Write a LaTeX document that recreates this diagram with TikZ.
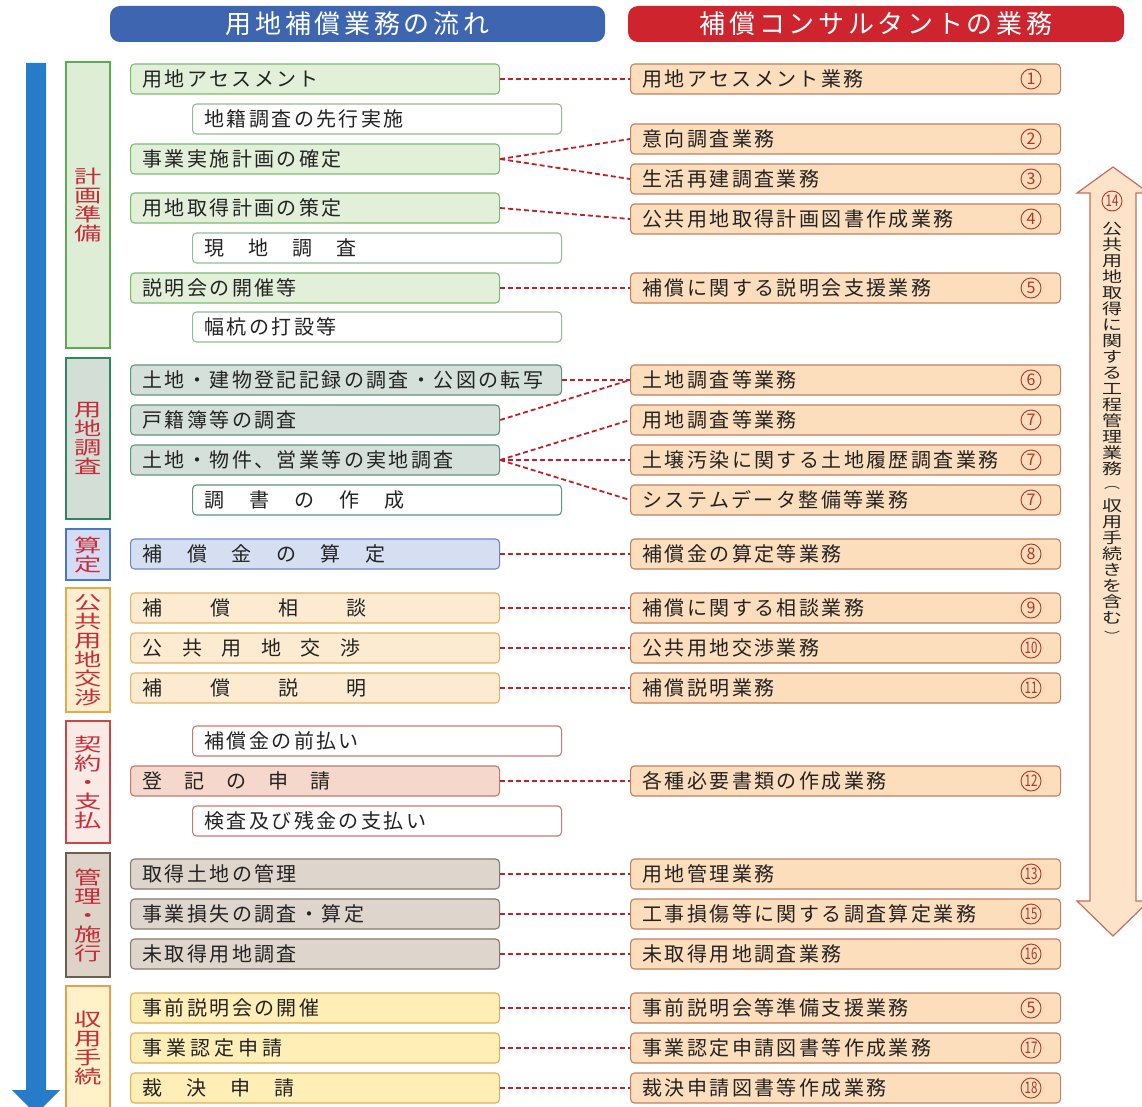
\documentclass[tikz,border=0pt]{standalone}
\usepackage{fontspec}
\usepackage{graphicx}
\setmainfont{Noto Sans CJK JP}[LetterSpace=12]
\newfontfamily\jpplain{Noto Sans CJK JP}
\newfontfamily\jphead{Noto Sans CJK JP}[LetterSpace=14]
\definecolor{txt}{RGB}{35,35,35}
\definecolor{hblue}{RGB}{62,102,176}
\definecolor{hred}{RGB}{206,36,46}
\definecolor{arrblue}{RGB}{38,124,200}
\definecolor{dashred}{RGB}{192,32,44}
\definecolor{catred}{RGB}{200,45,55}
\definecolor{rfill}{RGB}{252,221,188}
\definecolor{rdraw}{RGB}{192,128,96}
\definecolor{numred}{RGB}{175,55,40}
\definecolor{afill}{RGB}{253,228,200}
\definecolor{adraw}{RGB}{195,110,95}
% groups
\definecolor{gAcf}{RGB}{222,238,214}\definecolor{gAcd}{RGB}{95,170,85}
\definecolor{gAbf}{RGB}{226,240,218}\definecolor{gAbd}{RGB}{125,185,115}\definecolor{gAsd}{RGB}{150,185,150}
\definecolor{gBcf}{RGB}{210,222,214}\definecolor{gBcd}{RGB}{45,135,95}
\definecolor{gBbf}{RGB}{213,224,218}\definecolor{gBbd}{RGB}{95,150,125}
\definecolor{gCcf}{RGB}{212,220,244}\definecolor{gCcd}{RGB}{70,120,195}
\definecolor{gCbf}{RGB}{214,222,242}\definecolor{gCbd}{RGB}{105,135,200}
\definecolor{gDcf}{RGB}{253,238,210}\definecolor{gDcd}{RGB}{228,172,70}
\definecolor{gDbf}{RGB}{252,235,208}\definecolor{gDbd}{RGB}{228,178,100}
\definecolor{gEcf}{RGB}{250,234,230}\definecolor{gEcd}{RGB}{205,70,70}
\definecolor{gEbf}{RGB}{245,215,203}\definecolor{gEbd}{RGB}{195,120,110}\definecolor{gEsd}{RGB}{200,120,120}
\definecolor{gFcf}{RGB}{221,211,201}\definecolor{gFcd}{RGB}{110,95,85}
\definecolor{gFbf}{RGB}{222,213,205}\definecolor{gFbd}{RGB}{135,120,110}
\definecolor{gGcf}{RGB}{255,242,200}\definecolor{gGcd}{RGB}{228,160,80}
\definecolor{gGbf}{RGB}{255,238,182}\definecolor{gGbd}{RGB}{222,175,85}
\newcommand\gp[1]{\hspace{#1pt}}
\newcommand\vw[1]{\scalebox{1.3}[0.88]{#1}}
\newcommand\dd[1]{\scalebox{0.72}[1]{#1}}
\tikzset{
  box/.style={rounded corners=4pt, line width=1.1pt, minimum height=30pt,
    inner xsep=12pt, inner ysep=0pt, anchor=west,
    font=\fontsize{20}{20}\selectfont, text=txt, text width=345pt, align=left},
  subbox/.style={box, fill=white},
  rbox/.style={box, fill=rfill, draw=rdraw, text width=406pt},
  conn/.style={draw=dashred, line width=1.8pt, dash pattern=on 5pt off 3pt},
  catbox/.style={rectangle, line width=1.5pt, minimum width=44pt, inner sep=0pt,
    align=center, text=catred,
    font=\jpplain\fontsize{21}{19}\selectfont},
  num/.style={circle, draw=numred, line width=0.9pt, minimum size=20pt, inner sep=0pt,
    text=numred, font=\jpplain\fontsize{16}{16}\selectfont},
  header/.style={rounded corners=10pt, minimum height=36pt, text=white,
    font=\jphead\fontsize{26}{26}\selectfont},
  vchar/.style={inner sep=0pt, text=txt, font=\jpplain\fontsize{20}{20}\selectfont},
  vparen/.style={inner sep=0pt, text=txt, font=\jpplain\fontsize{16}{16}\selectfont}
}
\begin{document}
\begin{tikzpicture}[x=1pt,y=-1pt]
\useasboundingbox (0,0) rectangle (1142,1107);
\fill[white] (0,0) rectangle (1142,1107);

% headers
\node[header, fill=hblue, minimum width=495pt] (h1) at (357.5,24) {用地補償業務の流れ};
\node[header, fill=hred, minimum width=496pt] (h2) at (876,24) {補償コンサルタントの業務};

% left blue arrow
\fill[arrblue] (26,63) -- (46,63) -- (46,1090) -- (60,1090) -- (36,1114) -- (12,1090) -- (26,1090) -- cycle;

% right double arrow
\filldraw[fill=afill, draw=adraw, line width=1.2pt]
  (1113,167) -- (1149,193) -- (1136,193) -- (1136,901) -- (1149,901) -- (1113,936)
  -- (1077,901) -- (1090,901) -- (1090,193) -- (1077,193) -- cycle;
\node[num] (n14) at (1112,201) {\dd{14}};
\foreach \c [count=\i] in {公,共,用,地,取,得,に,関,す,る,工,程,管,理,業,務}
  \node[vchar, name=va\i] at (1112,213+16*\i) {\scalebox{1}[0.76]{\c}};
\node[vparen] (vp1) at (1112,213+16*17+3) {\scalebox{1}[0.7]{︵}};
\foreach \c [count=\i] in {収,用,手,続,き,を,含,む}
  \node[vchar, name=vb\i] at (1112,213+16*17+5+16*\i) {\scalebox{1}[0.76]{\c}};
\node[vparen] (vp2) at (1112,213+16*26+7) {\scalebox{1}[0.7]{︶}};

% category boxes
\node[catbox, fill=gAcf, draw=gAcd, minimum height=286pt] (c1) at (88,205) {\vw{計}\\\vw{画}\\\vw{準}\\\vw{備}};
\node[catbox, fill=gBcf, draw=gBcd, minimum height=161pt] (c2) at (88,438.5) {\vw{用}\\\vw{地}\\\vw{調}\\\vw{査}};
\node[catbox, fill=gCcf, draw=gCcd, minimum height=51pt] (c3) at (88,554.5) {\vw{算}\\\vw{定}};
\node[catbox, fill=gDcf, draw=gDcd, minimum height=124pt] (c4) at (88,650) {\vw{公}\\\vw{共}\\\vw{用}\\\vw{地}\\\vw{交}\\\vw{渉}};
\node[catbox, fill=gEcf, draw=gEcd, minimum height=122pt] (c5) at (88,782) {\vw{契}\\\vw{約}\\\vw{・}\\\vw{支}\\\vw{払}};
\node[catbox, fill=gFcf, draw=gFcd, minimum height=124pt] (c6) at (88,915) {\vw{管}\\\vw{理}\\\vw{・}\\\vw{施}\\\vw{行}};
\node[catbox, fill=gGcf, draw=gGcd, minimum height=124pt] (c7) at (88,1048) {\vw{収}\\\vw{用}\\\vw{手}\\\vw{続}};

% flow boxes
\node[box, fill=gAbf, draw=gAbd] (m1) at (130,79) {用地アセスメント};
\node[subbox, draw=gAsd] (s1) at (192,119) {地籍調査の先行実施};
\node[box, fill=gAbf, draw=gAbd] (m2) at (130,159) {事業実施計画の確定};
\node[box, fill=gAbf, draw=gAbd] (m3) at (130,208) {用地取得計画の策定};
\node[subbox, draw=gAsd] (s2) at (192,248) {現\gp{24}地\gp{24}調\gp{24}査};
\node[box, fill=gAbf, draw=gAbd] (m4) at (130,288) {説明会の開催等};
\node[subbox, draw=gAsd] (s3) at (192,327) {幅杭の打設等};

\node[box, fill=gBbf, draw=gBbd, text width=407pt] (m5) at (130,380) {土地・建物登記記録の調査・公図の転写};
\node[box, fill=gBbf, draw=gBbd] (m6) at (130,420) {戸籍簿等の調査};
\node[box, fill=gBbf, draw=gBbd] (m7) at (130,460) {土地・物件、営業等の実地調査};
\node[subbox, draw=gBbd] (s4) at (192,500) {調\gp{25}書\gp{25}の\gp{25}作\gp{25}成};

\node[box, fill=gCbf, draw=gCbd] (m8) at (130,554) {補\gp{24.5}償\gp{24.5}金\gp{24.5}の\gp{24.5}算\gp{24.5}定};

\node[box, fill=gDbf, draw=gDbd] (m9) at (130,608) {補\gp{48}償\gp{48}相\gp{48}談};
\node[box, fill=gDbf, draw=gDbd] (m10) at (130,648) {公\gp{19.5}共\gp{19.5}用\gp{19.5}地\gp{19.5}交\gp{19.5}渉};
\node[box, fill=gDbf, draw=gDbd] (m11) at (130,688) {補\gp{48}償\gp{48}説\gp{48}明};

\node[subbox, draw=gEsd] (s5) at (192,741) {補償金の前払い};
\node[box, fill=gEbf, draw=gEbd] (m12) at (130,781) {登\gp{22}記\gp{22}の\gp{22}申\gp{22}請};
\node[subbox, draw=gEsd] (s6) at (192,821) {検査及び残金の支払い};

\node[box, fill=gFbf, draw=gFbd] (m13) at (130,874) {取得土地の管理};
\node[box, fill=gFbf, draw=gFbd] (m14) at (130,914) {事業損失の調査・算定};
\node[box, fill=gFbf, draw=gFbd] (m15) at (130,954) {未取得用地調査};

\node[box, fill=gGbf, draw=gGbd] (m16) at (130,1008) {事前説明会の開催};
\node[box, fill=gGbf, draw=gGbd] (m17) at (130,1048) {事\gp{4}業\gp{4}認\gp{4}定\gp{4}申\gp{4}請};
\node[box, fill=gGbf, draw=gGbd] (m18) at (130,1088) {裁\gp{24}決\gp{24}申\gp{24}請};

% consultant boxes
\node[rbox] (r1) at (630,79) {用地アセスメント業務};
\node[rbox] (r2) at (630,139) {意向調査業務};
\node[rbox] (r3) at (630,179) {生活再建調査業務};
\node[rbox] (r4) at (630,219) {公共用地取得計画図書作成業務};
\node[rbox] (r5) at (630,288) {補償に関する説明会支援業務};
\node[rbox] (r6) at (630,380) {土地調査等業務};
\node[rbox] (r7) at (630,420) {用地調査等業務};
\node[rbox] (r8) at (630,460) {土壌汚染に関する土地履歴調査業務};
\node[rbox] (r9) at (630,500) {システムデータ整備等業務};
\node[rbox] (r10) at (630,554) {補償金の算定等業務};
\node[rbox] (r11) at (630,608) {補償に関する相談業務};
\node[rbox] (r12) at (630,648) {公共用地交渉業務};
\node[rbox] (r13) at (630,688) {補償説明業務};
\node[rbox] (r14) at (630,781) {各種必要書類の作成業務};
\node[rbox] (r15) at (630,874) {用地管理業務};
\node[rbox] (r16) at (630,914) {工事損傷等に関する調査算定業務};
\node[rbox] (r17) at (630,954) {未取得用地調査業務};
\node[rbox] (r18) at (630,1008) {事前説明会等準備支援業務};
\node[rbox] (r19) at (630,1048) {事業認定申請図書等作成業務};
\node[rbox] (r20) at (630,1088) {裁決申請図書等作成業務};

% numbers
\node[num] (n1) at (1031,79) {1};
\node[num] (n2) at (1031,139) {2};
\node[num] (n3) at (1031,179) {3};
\node[num] (n4) at (1031,219) {4};
\node[num] (n5) at (1031,288) {5};
\node[num] (n6) at (1031,380) {6};
\node[num] (n7a) at (1031,420) {7};
\node[num] (n7b) at (1031,460) {7};
\node[num] (n7c) at (1031,500) {7};
\node[num] (n8) at (1031,554) {8};
\node[num] (n9) at (1031,608) {9};
\node[num] (n10) at (1031,648) {\dd{10}};
\node[num] (n11) at (1031,688) {\dd{11}};
\node[num] (n12) at (1031,781) {\dd{12}};
\node[num] (n13) at (1031,874) {\dd{13}};
\node[num] (n15) at (1031,914) {\dd{15}};
\node[num] (n16) at (1031,954) {\dd{16}};
\node[num] (n5b) at (1031,1008) {5};
\node[num] (n17) at (1031,1048) {\dd{17}};
\node[num] (n18) at (1031,1088) {\dd{18}};

% connectors
\draw[conn] (m1.east) -- (r1.west);
\draw[conn] (m2.east) -- (r2.west);
\draw[conn] (m2.east) -- (r3.west);
\draw[conn] (m3.east) -- (r4.west);
\draw[conn] (m4.east) -- (r5.west);
\draw[conn] (m5.east) -- (r6.west);
\draw[conn] (m6.east) -- (r6.west);
\draw[conn] (m7.east) -- (r7.west);
\draw[conn] (m7.east) -- (r8.west);
\draw[conn] (m7.east) -- (r9.west);
\draw[conn] (m8.east) -- (r10.west);
\draw[conn] (m9.east) -- (r11.west);
\draw[conn] (m10.east) -- (r12.west);
\draw[conn] (m11.east) -- (r13.west);
\draw[conn] (m12.east) -- (r14.west);
\draw[conn] (m13.east) -- (r15.west);
\draw[conn] (m14.east) -- (r16.west);
\draw[conn] (m15.east) -- (r17.west);
\draw[conn] (m16.east) -- (r18.west);
\draw[conn] (m17.east) -- (r19.west);
\draw[conn] (m18.east) -- (r20.west);
\end{tikzpicture}
\end{document}
